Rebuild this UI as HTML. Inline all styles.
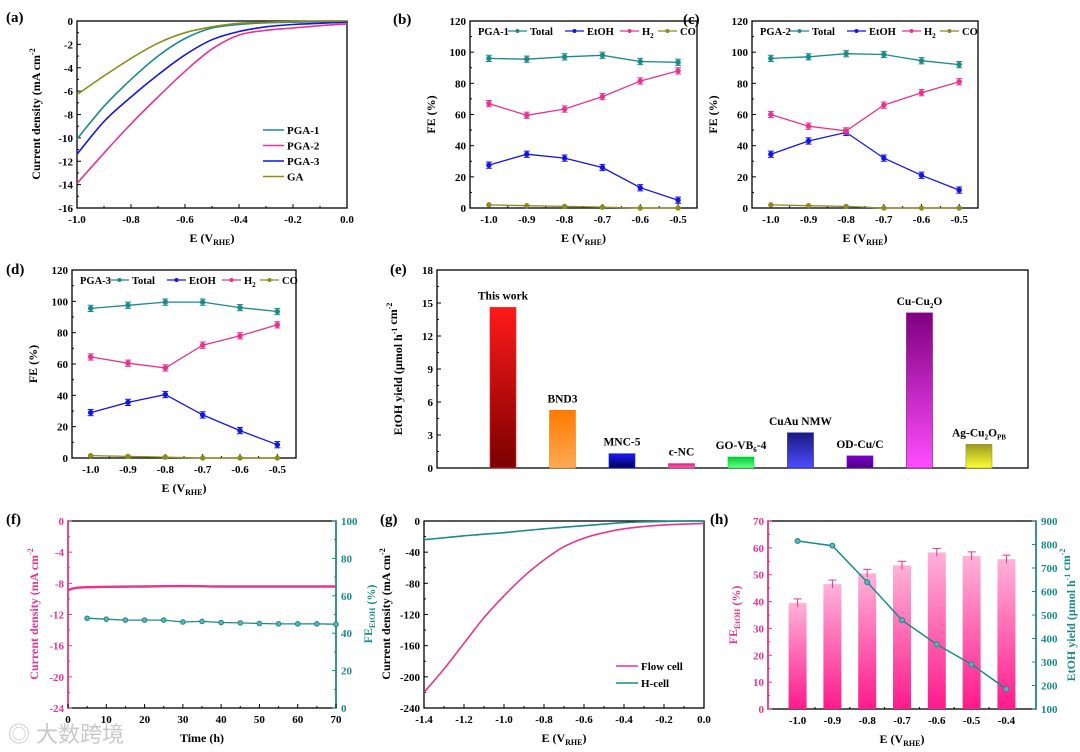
<!DOCTYPE html>
<html><head><meta charset="utf-8">
<style>
html,body{margin:0;padding:0;background:#fff;}
svg{display:block;font-family:"Liberation Serif",serif;font-weight:bold;}
</style></head>
<body>
<svg id="fig" width="1080" height="752" viewBox="0 0 1080 752" xmlns="http://www.w3.org/2000/svg">
<defs>
<linearGradient id="gh" x1="0" y1="0" x2="0" y2="1"><stop offset="0" stop-color="#ffb3d9"/><stop offset="1" stop-color="#ff1a8c"/></linearGradient>
</defs>
</svg>
<script>
// ---------- data ----------
const aE=[-1.0,-0.9,-0.8,-0.7,-0.6,-0.5,-0.4,-0.3,-0.2,-0.1,0.0];
const aPGA1=[-10.1,-7.3,-5.0,-3.0,-1.5,-0.6,-0.3,-0.15,-0.1,-0.07,-0.05];
const aPGA2=[-13.9,-11.3,-8.8,-6.5,-4.3,-2.4,-1.2,-0.8,-0.6,-0.4,-0.25];
const aPGA3=[-11.4,-8.6,-6.5,-4.6,-2.9,-1.6,-0.9,-0.5,-0.3,-0.2,-0.1];
const aGA=[-6.3,-4.7,-3.2,-1.9,-1.0,-0.5,-0.2,-0.1,-0.05,-0.02,0.0];
const feE=[-1.0,-0.9,-0.8,-0.7,-0.6,-0.5];
const bTotal=[96,95.5,97,98,94,93.5], bEtOH=[27.5,34.5,32,26,13,5], bH2=[67,59.5,63.5,71.5,81.5,88], bCO=[2,1.5,1,0.5,0,0];
const cTotal=[96,97,99,98.5,94.5,92], cEtOH=[34.5,43,48.5,32,21,11.5], cH2=[60,52.5,49.5,66,74,81], cCO=[2,1.5,1,0,0,0];
const dTotal=[95.5,97.5,99.5,99.5,96,93.5], dEtOH=[29,35.5,40.5,27.5,17.5,8.5], dH2=[64.5,60.5,57.5,72,78,85], dCO=[1.5,1,0.5,0,0,0];
const eCats=["This work","BND3","MNC-5","c-NC","GO-VB6-4","CuAu NMW","OD-Cu/C","Cu-Cu2O","Ag-Cu2OPB"];
const eVals=[14.6,5.25,1.3,0.4,1.0,3.2,1.1,14.1,2.15];
const fT=[0,1,2,3,5,10,20,30,40,50,60,70];
const fJ=[-8.9,-8.7,-8.6,-8.55,-8.5,-8.45,-8.4,-8.35,-8.4,-8.4,-8.4,-8.4];
const fFt=[5,10,15,20,25,30,35,40,45,50,55,60,65,70];
const fFE=[48,47.5,47,47,47,46,46.3,45.7,45.5,45.2,45,45,45,44.8];
const gE=[-1.4,-1.3,-1.2,-1.1,-1.0,-0.9,-0.8,-0.7,-0.6,-0.5,-0.4,-0.3,-0.2,-0.1,0.0];
const gFlow=[-220,-190,-157,-124,-96,-71,-50,-33,-22,-15,-10,-7,-5,-4,-3];
const gH=[-24,-21.5,-19,-17,-15,-12.5,-10,-8,-6,-4,-2,-1,-0.5,0,0];
const hE=[-1.0,-0.9,-0.8,-0.7,-0.6,-0.5,-0.4];
const hFE=[39.5,46.5,50.5,53.5,58.3,57,55.8];
const hYield=[815,795,640,478,375,290,185];

// ---------- helpers ----------
const NS="http://www.w3.org/2000/svg";
const svg=document.getElementById('fig');
function mk(tag,attrs,parent,txt){const e=document.createElementNS(NS,tag);for(const k in attrs)e.setAttribute(k,attrs[k]);if(txt!==undefined)e.textContent=txt;(parent||svg).appendChild(e);return e;}
function lin(d0,d1,r0,r1){return v=>r0+(v-d0)/(d1-d0)*(r1-r0);}
const TEAL="#1b8a8a",BLUE="#1414e6",PINK="#e8338f",OLIVE="#8c8c1c";

function panel(name,box,xd,yd,xt,yt,xf,yf,opt){
  opt=opt||{};
  const g=mk('g',{},svg);
  
  
  const X=lin(xd[0],xd[1],box.x,box.x2), Y=lin(yd[0],yd[1],box.y2,box.y);
  const fr=mk('rect',{x:box.x,y:box.y,width:box.x2-box.x,height:box.y2-box.y,fill:'none',stroke:'#000','stroke-width':1.3},g);
  
  if(opt.lc) mk('line',{x1:box.x,y1:box.y,x2:box.x,y2:box.y2,stroke:opt.lc,'stroke-width':1.6},g);
  if(opt.rc) mk('line',{x1:box.x2,y1:box.y,x2:box.x2,y2:box.y2,stroke:opt.rc,'stroke-width':1.6},g);
  const xg=mk('g',{},g);
  if(xt) xt.forEach((v,i)=>{const px=X(v);
    mk('line',{x1:px,y1:box.y2,x2:px,y2:box.y2-4,stroke:'#000','stroke-width':1},xg);
    if(i<xt.length-1){const mx=X((v+xt[i+1])/2);mk('line',{x1:mx,y1:box.y2,x2:mx,y2:box.y2-2,stroke:'#000','stroke-width':1},xg);}
    mk('text',{x:px,y:box.y2+15,'text-anchor':'middle','font-size':11},xg,xf(v));});
  const yg=mk('g',{},g);
  yt.forEach((v,i)=>{const py=Y(v);const c=opt.lc||'#000';
    mk('line',{x1:box.x,y1:py,x2:box.x+4,y2:py,stroke:c,'stroke-width':1},yg);
    if(i<yt.length-1){const my=Y((v+yt[i+1])/2);mk('line',{x1:box.x,y1:my,x2:box.x+2,y2:my,stroke:c,'stroke-width':1},yg);}
    mk('text',{x:box.x-4,y:py+4,'text-anchor':'end','font-size':11,fill:c},yg,yf(v));});
  return {g,X,Y,box};
}
function xtitle(p,txt,sub,after){const b=p.box;const t=mk('text',{x:(b.x+b.x2)/2,y:b.y2+34,'text-anchor':'middle','font-size':12},p.g);
  
  t.appendChild(document.createTextNode(txt));if(sub){mk('tspan',{'font-size':8,dy:3},t,sub);mk('tspan',{dy:-3},t,after||'');}}
function ytitle(x,y,parts,parent,color){const t=mk('text',{transform:`translate(${x},${y}) rotate(-90)`,'text-anchor':'middle','font-size':12,fill:color||'#000'},parent);
  
  parts.forEach(p=>{if(typeof p==='string')mk('tspan',{},t,p);else mk('tspan',{'font-size':8,dy:p.dy},t,p.t);});return t;}
function pathD(xs,ys,X,Y){return xs.map((v,i)=>(i?'L':'M')+X(v).toFixed(1)+','+Y(ys[i]).toFixed(1)).join('');}
function smoothD(xs,ys,X,Y){const P=xs.map((v,i)=>[X(v),Y(ys[i])]);let d='M'+P[0][0].toFixed(1)+','+P[0][1].toFixed(1);
  for(let i=0;i<P.length-1;i++){const p0=P[Math.max(0,i-1)],p1=P[i],p2=P[i+1],p3=P[Math.min(P.length-1,i+2)];
    const c1=[p1[0]+(p2[0]-p0[0])/6,p1[1]+(p2[1]-p0[1])/6],c2=[p2[0]-(p3[0]-p1[0])/6,p2[1]-(p3[1]-p1[1])/6];
    d+='C'+c1.map(n=>n.toFixed(1)).join(',')+' '+c2.map(n=>n.toFixed(1)).join(',')+' '+p2.map(n=>n.toFixed(1)).join(',');}
  return d;}
function letter(x,y,l){const t=mk('text',{x:x,y:y,'font-size':15},svg,l);}

// ---------- (a) ----------
letter(6,22,'(a)');
let pa=panel('panel-a-lsv',{x:77,y:21,x2:347,y2:208},[-1,0],[-16,0],[-1,-0.8,-0.6,-0.4,-0.2,0],[-16,-14,-12,-10,-8,-6,-4,-2,0],v=>v.toFixed(1),v=>v);
xtitle(pa,'E (V','RHE',')');
ytitle(40,114,['Current density (mA cm',{t:'-2',dy:-5}],pa.g);
[[aPGA1,TEAL,'PGA-1'],[aPGA2,PINK,'PGA-2'],[aPGA3,BLUE,'PGA-3'],[aGA,OLIVE,'GA']].forEach((s,i)=>{
  const p=mk('path',{d:smoothD(aE,s[0],pa.X,pa.Y),fill:'none',stroke:s[1],'stroke-width':1.6},pa.g);
  
  const le=mk('g',{},pa.g);
  const ly=130+i*15.5;mk('line',{x1:263,y1:ly,x2:284,y2:ly,stroke:s[1],'stroke-width':1.6},le);
  mk('text',{x:287,y:ly+4,'font-size':11},le,s[2]);});

// ---------- FE panels ----------
function fePanel(name,lbl,lx,ly,box,tot,et,h2,co,tag){
  letter(lx,ly,lbl);
  const p=panel(name,box,[-1.05,-0.45],[0,120],feE,[0,20,40,60,80,100,120],v=>v.toFixed(1),v=>v);
  xtitle(p,'E (V','RHE',')');
  ytitle(box.x-35,(box.y+box.y2)/2,['FE (%)'],p.g);
  [[tot,TEAL,'total'],[et,BLUE,'etoh'],[h2,PINK,'h2'],[co,OLIVE,'co']].forEach(s=>{
    const ln=mk('path',{d:pathD(feE,s[0],p.X,p.Y),fill:'none',stroke:s[1],'stroke-width':1.3},p.g);
    
    feE.forEach((v,i)=>{const x=p.X(v),y=p.Y(s[0][i]);const e=s[2]==='co'?0:2;
      if(e){mk('line',{x1:x,y1:p.Y(s[0][i]-e),x2:x,y2:p.Y(s[0][i]+e),stroke:s[1],'stroke-width':1},p.g);
        mk('line',{x1:x-3,y1:p.Y(s[0][i]+e),x2:x+3,y2:p.Y(s[0][i]+e),stroke:s[1],'stroke-width':1},p.g);
        mk('line',{x1:x-3,y1:p.Y(s[0][i]-e),x2:x+3,y2:p.Y(s[0][i]-e),stroke:s[1],'stroke-width':1},p.g);}
      const c=mk('circle',{cx:x,cy:y,r:2.2,fill:s[1],stroke:s[1]},p.g);
      });
  });
  const lg=mk('g',{},p.g);
  const y0=box.y+14,x0=box.x;
  mk('text',{x:x0+8,y:y0,'font-size':10.5},lg,tag);
  [[TEAL,'Total',38],[BLUE,'EtOH',95],[PINK,'H',150],[OLIVE,'CO',188]].forEach(s=>{
    mk('line',{x1:x0+s[2],y1:y0-4,x2:x0+s[2]+19,y2:y0-4,stroke:s[0],'stroke-width':1.3},lg);
    mk('circle',{cx:x0+s[2]+9.5,cy:y0-4,r:2,fill:s[0]},lg);
    const t=mk('text',{x:x0+s[2]+22,y:y0,'font-size':10.5},lg,s[1]);
    if(s[1]==='H')mk('tspan',{'font-size':7,dy:3},t,'2');});
}
fePanel('panel-b-fe-pga1','(b)',393,24,{x:470,y:21,x2:697,y2:208},bTotal,bEtOH,bH2,bCO,'PGA-1');
fePanel('panel-c-fe-pga2','(c)',683,24,{x:752,y:21,x2:978,y2:208},cTotal,cEtOH,cH2,cCO,'PGA-2');
fePanel('panel-d-fe-pga3','(d)',6,274,{x:72,y:270,x2:296,y2:458},dTotal,dEtOH,dH2,dCO,'PGA-3');

// ---------- (e) ----------
letter(390,274,'(e)');
const pe=panel('panel-e-yield-comparison',{x:437,y:270,x2:1028,y2:468},[-1.109,8.824],[0,18],null,[0,3,6,9,12,15,18],null,v=>v);
ytitle(402,369,['EtOH yield (μmol h',{t:'-1',dy:-5},{t:'',dy:5},' cm',{t:'-2',dy:-5}],pe.g);
const eCols=[["#ff1a1a","#7a0000"],["#ff7a00","#ffaa55"],["#1a1aff","#00004d"],["#e0207a","#ff66b3"],["#00cc33","#66ff88"],["#1a1a80","#4d4dff"],["#7a00cc","#4d0080"],["#800080","#ff4dff"],["#999922","#ffff33"]];
const eLab=[["This work"],["BND3"],["MNC-5"],["c-NC"],["GO-VB","6","-4"],["CuAu NMW"],["OD-Cu/C"],["Cu-Cu","2","O"],["Ag-Cu","2","O","PB"]];
eVals.forEach((v,i)=>{
  const gd=mk('linearGradient',{id:'ge'+i,x1:0,y1:0,x2:0,y2:1},svg.querySelector('defs'));
  mk('stop',{offset:0,'stop-color':eCols[i][0]},gd);mk('stop',{offset:1,'stop-color':eCols[i][1]},gd);
  const cx=pe.X(i), w=26;
  const r=mk('rect',{x:cx-w/2,y:pe.Y(v),width:w,height:pe.Y(0)-pe.Y(v),fill:'url(#ge'+i+')',stroke:eCols[i][0],'stroke-width':0.6},pe.g);
  
  
  const t=mk('text',{x:cx,y:pe.Y(v)-8,'text-anchor':'middle','font-size':11.5},pe.g);
  
  const L=eLab[i];mk('tspan',{},t,L[0]);
  if(L.length>1){mk('tspan',{'font-size':7,dy:3},t,L[1]);mk('tspan',{dy:-3},t,L[2]);}
  if(L.length>3){mk('tspan',{'font-size':7,dy:3},t,L[3]);}
});

// ---------- (f) ----------
letter(6,524,'(f)');
const pf=panel('panel-f-stability',{x:68,y:521,x2:336,y2:708},[0,70],[-24,0],[0,10,20,30,40,50,60,70],[-24,-20,-16,-12,-8,-4,0],v=>v,v=>v,{lc:PINK,rc:TEAL});
const YfR=lin(0,100,708,521);
[0,20,40,60,80,100].forEach((v,i)=>{const y=YfR(v);mk('line',{x1:336,y1:y,x2:332,y2:y,stroke:TEAL},pf.g);
  if(i<5)mk('line',{x1:336,y1:YfR(v+10),x2:334,y2:YfR(v+10),stroke:TEAL},pf.g);
  mk('text',{x:341,y:y+4,'font-size':11,fill:TEAL},pf.g,v);});
mk('text',{x:202,y:742,'text-anchor':'middle','font-size':12},pf.g,'Time (h)');
ytitle(38,614,['Current density (mA cm',{t:'-2',dy:-5}],pf.g,PINK);
ytitle(372,614,['FE',{t:'EtOH',dy:3},{t:'',dy:-3},' (%)'],pf.g,TEAL);
let jl=mk('path',{d:smoothD(fT,fJ,pf.X,pf.Y),fill:'none',stroke:PINK,'stroke-width':2.4},pf.g);

let fl=mk('path',{d:pathD(fFt,fFE,pf.X,YfR),fill:'none',stroke:TEAL,'stroke-width':1.3},pf.g);

fFt.forEach((t,i)=>{const c=mk('circle',{cx:pf.X(t),cy:YfR(fFE[i]),r:2.3,fill:'#5fb3b3',stroke:TEAL},pf.g);
  });
const wm=mk('text',{x:8,y:742,'font-size':22,fill:'#c8c8c8','font-family':'"Liberation Sans","Noto Sans CJK SC",sans-serif','font-weight':'normal'},svg,'◎ 大数跨境');


// ---------- (g) ----------
letter(380,524,'(g)');
const pg=panel('panel-g-flow-vs-hcell',{x:424,y:521,x2:704,y2:708},[-1.4,0],[-240,0],[-1.4,-1.2,-1,-0.8,-0.6,-0.4,-0.2,0],[-240,-200,-160,-120,-80,-40,0],v=>v.toFixed(1),v=>v);
xtitle(pg,'E (V','RHE',')');
ytitle(390,614,['Current density (mA cm',{t:'-2',dy:-5}],pg.g);
[[gFlow,PINK,'Flow cell'],[gH,TEAL,'H-cell']].forEach((s,i)=>{
  const l=mk('path',{d:smoothD(gE,s[0],pg.X,pg.Y),fill:'none',stroke:s[1],'stroke-width':1.6},pg.g);
  
  const ly=666+i*17;mk('line',{x1:616,y1:ly,x2:638,y2:ly,stroke:s[1],'stroke-width':1.6},pg.g);
  mk('text',{x:641,y:ly+4,'font-size':11},pg.g,s[2]);});

// ---------- (h) ----------
letter(710,524,'(h)');
const ph=panel('panel-h-fe-yield',{x:768,y:521,x2:1036,y2:709},[-1.085,-0.315],[0,70],hE,[0,10,20,30,40,50,60,70],v=>v.toFixed(1),v=>v,{lc:PINK,rc:TEAL});
const YhR=lin(100,900,709,521);
[100,200,300,400,500,600,700,800,900].forEach(v=>{const y=YhR(v);mk('line',{x1:1036,y1:y,x2:1032,y2:y,stroke:TEAL},ph.g);
  mk('text',{x:1041,y:y+4,'font-size':11,fill:TEAL},ph.g,v);});
xtitle(ph,'E (V','RHE',')');
ytitle(737,615,['FE',{t:'EtOH',dy:3},{t:'',dy:-3},' (%)'],ph.g,PINK);
ytitle(1075,615,['EtOH yield (μmol h',{t:'-1',dy:-5},{t:'',dy:5},' cm',{t:'-2',dy:-5}],ph.g,TEAL);
hE.forEach((v,i)=>{const x=ph.X(v);
  const r=mk('rect',{x:x-9,y:ph.Y(hFE[i]),width:18,height:ph.Y(0)-ph.Y(hFE[i]),fill:'url(#gh)'},ph.g);
  
  const e=1.5;mk('line',{x1:x,y1:ph.Y(hFE[i]-e),x2:x,y2:ph.Y(hFE[i]+e),stroke:PINK},ph.g);
  mk('line',{x1:x-4,y1:ph.Y(hFE[i]+e),x2:x+4,y2:ph.Y(hFE[i]+e),stroke:PINK},ph.g);});
const hl=mk('path',{d:pathD(hE,hYield,ph.X,YhR),fill:'none',stroke:TEAL,'stroke-width':1.5},ph.g);

hE.forEach((v,i)=>{const c=mk('circle',{cx:ph.X(v),cy:YhR(hYield[i]),r:2.5,fill:'#5fb3b3',stroke:TEAL},ph.g);
  });
</script>
</body></html>
